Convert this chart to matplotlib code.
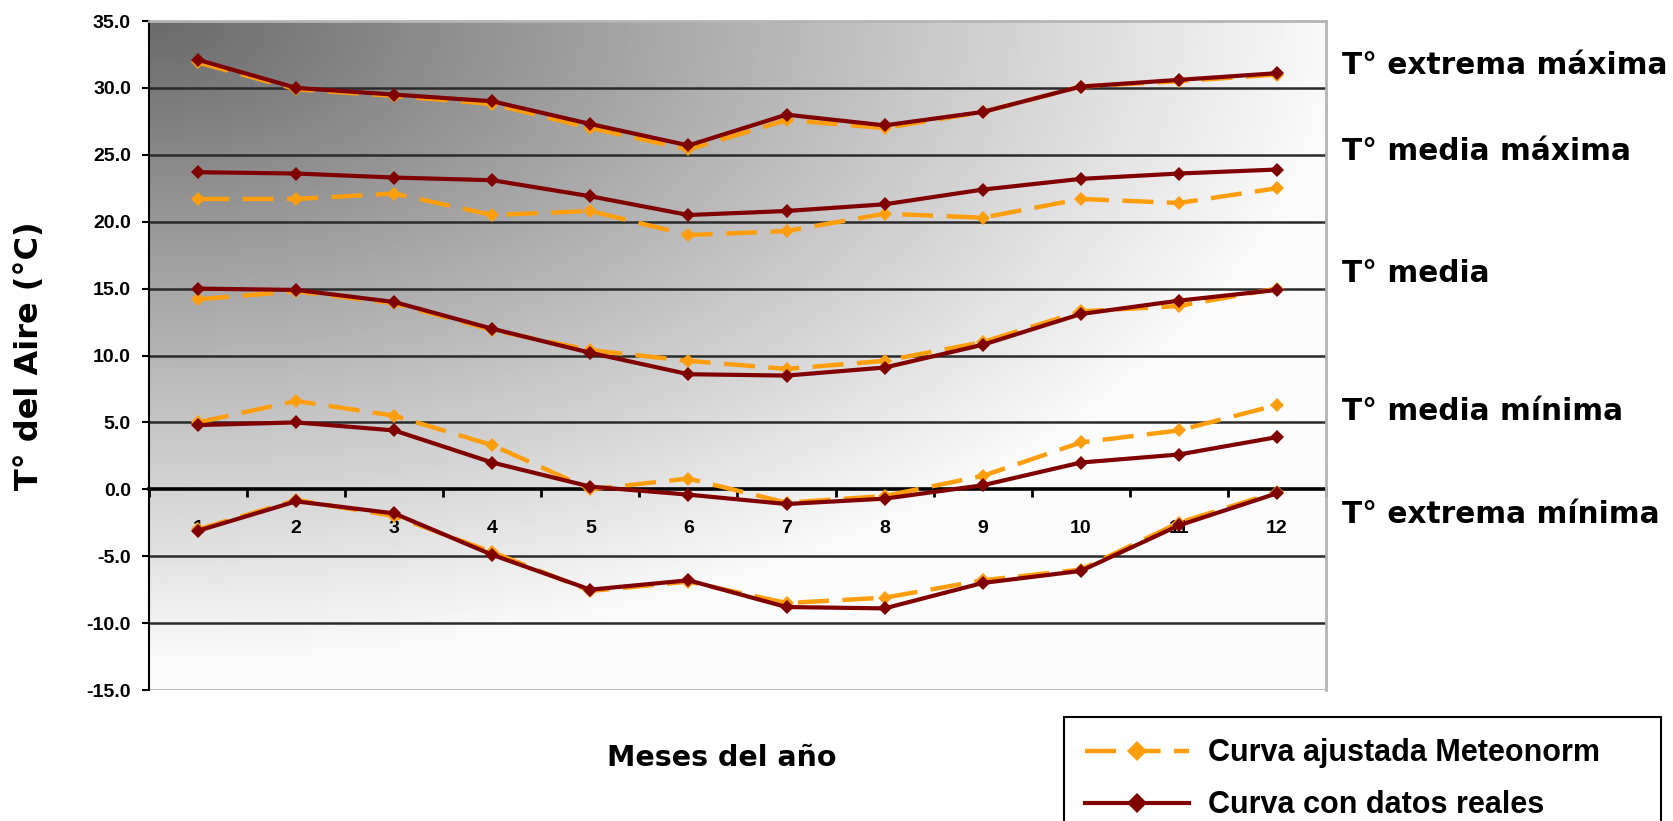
import numpy as np
import matplotlib
matplotlib.use("Agg")
import matplotlib.pyplot as plt
from matplotlib.lines import Line2D

months = list(range(1, 13))
month_labels = [str(m) for m in months]

# Real data (dark red)
real_ext_max = [32.1, 30.0, 29.5, 29.0, 27.3, 25.7, 28.0, 27.2, 28.2, 30.1, 30.6, 31.1]
real_med_max = [23.7, 23.6, 23.3, 23.1, 21.9, 20.5, 20.8, 21.3, 22.4, 23.2, 23.6, 23.9]
real_media   = [15.0, 14.9, 14.0, 12.0, 10.2, 8.6, 8.5, 9.1, 10.8, 13.1, 14.1, 14.9]
real_med_min = [4.8, 5.0, 4.4, 2.0, 0.2, -0.4, -1.1, -0.7, 0.3, 2.0, 2.6, 3.9]
real_ext_min = [-3.1, -0.9, -1.8, -4.9, -7.5, -6.8, -8.8, -8.9, -7.0, -6.1, -2.7, -0.3]

# Meteonorm adjusted (orange dashed)
met_ext_max = [31.9, 29.9, 29.4, 28.8, 27.0, 25.4, 27.6, 27.0, 28.2, 30.1, 30.5, 31.0]
met_med_max = [21.7, 21.7, 22.1, 20.5, 20.8, 19.0, 19.3, 20.6, 20.3, 21.7, 21.4, 22.5]
met_media   = [14.2, 14.8, 13.9, 11.9, 10.4, 9.6, 9.0, 9.6, 11.0, 13.3, 13.7, 15.0]
met_med_min = [5.0, 6.6, 5.5, 3.3, 0.0, 0.8, -1.0, -0.5, 1.0, 3.5, 4.4, 6.3]
met_ext_min = [-3.0, -0.8, -2.0, -4.7, -7.6, -6.9, -8.5, -8.1, -6.8, -6.0, -2.5, -0.2]

y_ticks = [35, 30, 25, 20, 15, 10, 5, 0, -5, -10, -15]
series_labels = ["T° extrema máxima", "T° media máxima", "T° media",
                 "T° media mínima", "T° extrema mínima"]
label_y_px = [66, 151, 274, 411, 514]
legend_labels = ["Curva ajustada Meteonorm", "Curva con datos reales"]

RED = "#800000"
ORANGE = "#FF9E0C"

W, H = 1673, 821
fig = plt.figure(figsize=(W / 100, H / 100), dpi=100)
fig.patch.set_facecolor("white")
ax = fig.add_axes([149 / W, 1 - 690 / H, (1326 - 149) / W, (690 - 21) / H])

# gradient background (dark at top-left corner)
ny, nx = 300, 500
fx = np.linspace(0, 1, nx)[None, :]
fy = np.linspace(0, 1, ny)[:, None]
d = np.sqrt((fx * 1.0) ** 2 + (fy * 1.05) ** 2)
val = (106 + 146 * np.clip(d / 1.02, 0, 1)) / 255.0
val = np.clip(val, 0, 1)
ax.imshow(val, extent=[0, 1, 0, 1], origin="upper", transform=ax.transAxes,
          cmap="gray", vmin=0, vmax=1, aspect="auto", zorder=0,
          interpolation="bilinear")

ax.set_xlim(0.5, 12.5)
ax.set_ylim(-15, 35)

for yv in y_ticks:
    if yv in (35, -15, 0):
        continue
    ax.axhline(yv, color="#2a2a2a", lw=1.8, zorder=1)
ax.axhline(-15, color="#b5b5b5", lw=2.0, zorder=1)

met_sets = [met_ext_max, met_med_max, met_media, met_med_min, met_ext_min]
real_sets = [real_ext_max, real_med_max, real_media, real_med_min, real_ext_min]
for s in met_sets:
    ax.plot(months, s, color=ORANGE, lw=3.2, dashes=(7, 3), marker="D",
            markersize=7.5, markeredgewidth=0, zorder=3)
for s in real_sets:
    ax.plot(months, s, color=RED, lw=3.0, marker="D", markersize=7.5,
            markeredgewidth=0, zorder=4)

# spines
ax.spines["bottom"].set_position(("data", 0))
ax.spines["bottom"].set_color("black")
ax.spines["bottom"].set_linewidth(2.6)
ax.spines["bottom"].set_zorder(2)
ax.spines["left"].set_color("black")
ax.spines["left"].set_linewidth(1.5)
ax.spines["top"].set_color("#b5b5b5")
ax.spines["top"].set_linewidth(2.0)
ax.spines["right"].set_color("#b5b5b5")
ax.spines["right"].set_linewidth(2.0)

tick_font = dict(family=["Liberation Sans Narrow", "Liberation Sans", "DejaVu Sans"],
                 weight="bold", size=14)
ax.set_yticks(y_ticks)
ax.set_yticklabels([f"{v:.1f}" for v in y_ticks], fontdict=tick_font)
ax.tick_params(axis="y", direction="out", length=5, width=1.5, pad=8, colors="black")

ax.set_xticks(months)
ax.set_xticklabels(month_labels, fontdict=tick_font)
ax.set_xticks(np.arange(0.5, 13, 1.0), minor=True)
ax.tick_params(axis="x", which="major", length=0, pad=22)
ax.tick_params(axis="x", which="minor", direction="out", length=6, width=2)

ax.set_ylabel("T° del Aire (°C)", fontsize=23, fontweight="bold",
              family="DejaVu Sans")
ax.yaxis.set_label_coords(-0.088, 0.5)

fig.text(722 / W, 1 - 758 / H, "Meses del año", ha="center", va="center",
         fontsize=20.5, fontweight="bold", family="DejaVu Sans")

for lab, ypx in zip(series_labels, label_y_px):
    fig.text(1342 / W, 1 - ypx / H, lab, ha="left", va="center",
             fontsize=21.3, fontweight="bold", family="DejaVu Sans")

handles = [Line2D([], [], color=ORANGE, lw=3.2, dashes=(7, 3), marker="D",
                  markersize=10, markeredgewidth=0),
           Line2D([], [], color=RED, lw=3.0, marker="D", markersize=10,
                  markeredgewidth=0)]
leg = fig.legend(handles, legend_labels, loc="upper left",
                 bbox_to_anchor=(1064 / W, 0, (1661 - 1064) / W, 1 - 717 / H),
                 mode="expand",
                 frameon=True, fancybox=False, framealpha=1, edgecolor="black",
                 prop=dict(family=["Liberation Sans Narrow", "Liberation Sans", "DejaVu Sans"],
                           weight="bold", size=22),
                 handlelength=3.4, handletextpad=0.6, labelspacing=0.72,
                 borderpad=0.7, borderaxespad=0)
leg.get_frame().set_linewidth(1.5)

fig.savefig("out.png", dpi=100)
